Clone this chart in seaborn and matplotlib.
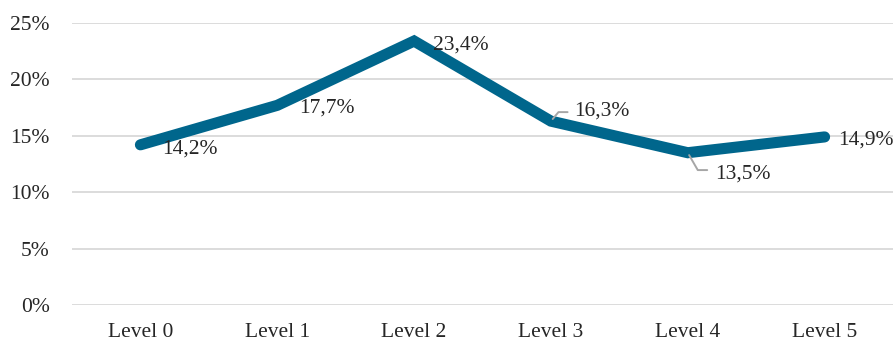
import matplotlib
matplotlib.use("Agg")
import matplotlib.pyplot as plt
import seaborn as sns
import pandas as pd

categories = ["Level 0", "Level 1", "Level 2", "Level 3", "Level 4", "Level 5"]
values = [14.2, 17.7, 23.4, 16.3, 13.5, 14.9]
labels = ["14,2%", "17,7%", "23,4%", "16,3%", "13,5%", "14,9%"]
yticks = [0, 5, 10, 15, 20, 25]
ytick_labels = ["0%", "5%", "10%", "15%", "20%", "25%"]

sns.set_style("white")
plt.rcParams["font.family"] = ["Liberation Serif", "DejaVu Serif"]

df = pd.DataFrame({"cat": categories, "val": values, "x": range(len(categories))})

fig = plt.figure(figsize=(8.96, 3.45), dpi=100)
ax = fig.add_axes([72 / 896, 1 - 305 / 345, (893 - 72) / 896, (305 - 23) / 345])

color = "#00668C"
sns.lineplot(data=df, x="x", y="val", ax=ax, color=color, linewidth=8,
             solid_capstyle="round", solid_joinstyle="miter", zorder=3)

FS = 15.5
TC = "#262626"
ax.set_xlim(-0.5, len(categories) - 0.5)
ax.set_ylim(0, 25)
ax.set_yticks(yticks)
ax.set_yticklabels(ytick_labels)
ax.set_xticks(range(len(categories)))
ax.set_xticklabels(categories)
ax.tick_params(axis="both", length=0, labelsize=FS, labelcolor=TC)
ax.tick_params(axis="y", pad=16)
ax.tick_params(axis="x", pad=13)
ax.set_xlabel("")
ax.set_ylabel("")
for s in ax.spines.values():
    s.set_visible(False)
ax.grid(axis="y", color="#D9D9D9", linewidth=1.3)
ax.set_axisbelow(True)

# label offsets in points (dx, dy) relative to the data point
offsets = [(36, -3), (36, -2), (34, -3), (36.5, 7), (40, -15.5), (30, -2)]
# leader lines: end of horizontal segment (points offset) and angle of the diagonal
leaders = {3: ((12, 6.5), 50), 4: ((14, -12.5), -60)}
for i, (v, lab) in enumerate(zip(values, labels)):
    dx, dy = offsets[i]
    ax.annotate(lab, xy=(i, v), xytext=(dx, dy), textcoords="offset points",
                ha="center", va="center", fontsize=FS, color=TC, zorder=4)
    if i in leaders:
        (lx, ly), ang = leaders[i]
        ax.annotate("", xy=(i, v), xytext=(lx, ly), textcoords="offset points",
                    arrowprops=dict(arrowstyle="-", color="#A6A6A6", lw=1.4,
                                    connectionstyle="angle,angleA=0,angleB=%d,rad=0" % ang,
                                    shrinkA=0, shrinkB=2), zorder=4)

fig.savefig("out.png", dpi=100)
